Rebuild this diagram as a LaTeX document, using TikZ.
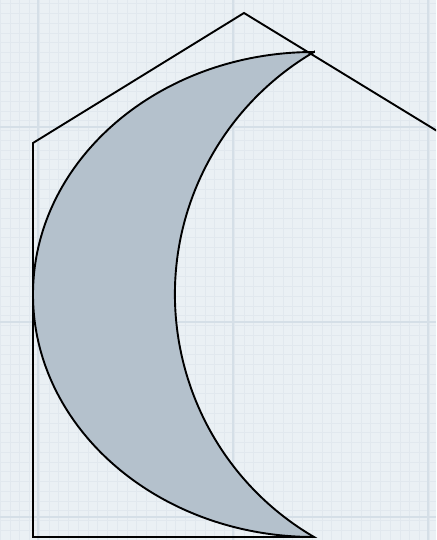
\documentclass[tikz,border=0pt]{standalone}
\definecolor{paper}{HTML}{EAF0F4}
\definecolor{finegrid}{HTML}{E1E8EE}
\definecolor{coarsegrid}{HTML}{D5DFE7}
\definecolor{moonfill}{HTML}{B4C1CC}
\tikzset{
  outline/.style={line width=1.9pt,line join=miter},
}
\begin{document}
\begin{tikzpicture}[x=1pt,y=1pt]
\useasboundingbox (0,0) rectangle (436,540);
\clip (0,0) rectangle (436,540);
% paper
\fill[paper] (0,0) rectangle (436,540);
\draw[finegrid,line width=0.5pt,step=9.75pt] (0,0) grid (436,540);
\draw[coarsegrid,line width=1.2pt,shift={(38pt,23pt)},step=195pt] (-38,-23) grid (398,517);
% house
\coordinate (base) at (33,3);
\coordinate (wall) at (33,397);
\coordinate (apex) at (244,527);
\coordinate (eave) at (442,406);
\coordinate (tipT) at (314,488);
\coordinate (tipB) at (314,3);
% crescent
\filldraw[moonfill,draw=black,outline] (tipT)
  arc[start angle=90,end angle=270,x radius=281,y radius=242.5]
  arc[start angle=239.66,end angle=120.34,radius=281] -- cycle;
\draw[outline] (tipB) -- (base) -- (wall) -- (apex) -- (eave);
\end{tikzpicture}
\end{document}
